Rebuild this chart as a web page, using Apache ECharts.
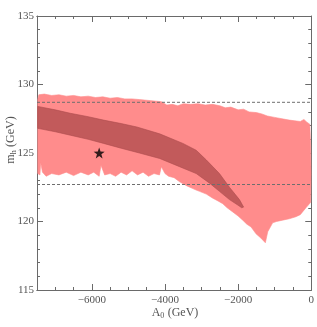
<!DOCTYPE html>
<html><head><meta charset="utf-8">
<script src="https://cdn.jsdelivr.net/npm/echarts@6/dist/echarts.min.js"></script>
<style>html,body{margin:0;padding:0;background:#fff}#c{width:317px;height:327px}</style>
</head><body><div id="c"></div>
<script>
// ---- data ----
const xLabelValues = [-6000, -4000, -2000, 0];
const xMinorTicks = [-7500,-7000,-6500,-6000,-5500,-5000,-4500,-4000,-3500,-3000,-2500,-2000,-1500,-1000,-500,0];
const yTickValues = [115, 120, 125, 130, 135];
const dashLevels = [128.7, 122.7];
const starPoint = [[-5800, 125.0]];

// light (allowed) region boundary
const lightX = [-7480,-7450,-7300,-7100,-6900,-6700,-6500,-6300,-6100,-5900,-5700,-5500,-5300,-5100,-4900,-4700,-4500,-4300,-4100,-3950,-3800,-3650,-3500,-3300,-3100,-2900,-2700,-2500,-2350,-2200,-2000,-1850,-1700,-1500,-1350,-1200,-1000,-800,-600,-450,-300,-200,-120,-40,
  -15,-5,-15,
  -145,-300,-420,-600,-783,-950,-1056,-1190,-1255,-1380,-1510,-1645,-1760,-1874,-2000,-2147,-2300,-2420,-2550,-2692,-2870,-3055,-3150,-3237,-3400,-3600,-3750,-3900,-4000,-4100,-4150,-4300,-4450,-4600,-4750,-4900,-5050,-5200,-5350,-5500,-5650,-5750,-5800,-5950,-6100,-6300,-6500,-6700,-6900,-7100,-7250,-7350,-7400,-7420,-7480];
const lightY = [128.9,129.25,129.3,129.2,129.25,129.15,129.2,129.1,129.15,129.05,129.1,129.0,129.05,128.95,128.95,128.9,128.85,128.8,128.75,128.5,128.55,128.45,128.6,128.55,128.6,128.5,128.55,128.45,128.3,128.35,128.15,128.2,128.0,127.95,127.85,127.7,127.6,127.5,127.4,127.35,127.3,127.45,127.25,127.1,
  125.5,123.5,121.4,
  121.0,120.5,120.35,120.2,120.1,120.0,119.9,119.25,118.45,118.8,119.1,119.6,119.8,120.1,120.4,120.7,121.0,121.3,121.5,121.7,122.0,122.2,122.3,122.4,122.6,122.9,123.2,123.3,123.5,124.0,123.4,123.5,123.3,123.6,123.4,123.7,123.4,123.6,123.3,123.5,123.4,124.1,123.3,123.6,123.4,123.6,123.35,123.6,123.4,123.5,123.3,123.6,124.3,123.4,123.5];

// dark (preferred) band boundary
const darkX = [-7480,-7000,-6590,-6100,-5680,-5200,-4770,-4145,-3510,-3146,-2873,-2510,-2237,-1964,-1850,
  -1900,-2010,-2237,-2510,-2782,-3146,-3600,-4145,-4700,-5200,-5680,-6100,-6590,-7000,-7480];
const darkY = [128.4,128.15,127.9,127.65,127.4,127.15,126.9,126.4,125.7,125.2,124.5,123.5,122.5,121.6,121.05,
  121.0,121.2,121.6,122.2,122.8,123.5,124.0,124.6,125.0,125.35,125.7,126.0,126.3,126.55,126.8];

// ---- chart ----
const FONT = 'Liberation Serif';
const TXT = '#555';
const AX = '#6a6a6a';
const chart = echarts.init(document.getElementById('c'), null, {renderer: 'canvas'});

function poly(xs, ys, fill, stroke) {
  return {
    type: 'custom', xAxisIndex: 0, yAxisIndex: 0, silent: true, clip: true,
    data: [[xs[0], ys[0]]],
    renderItem: function (params, api) {
      const pts = xs.map((x, i) => api.coord([x, ys[i]]));
      return {type: 'polygon', shape: {points: pts}, style: {fill: fill, stroke: stroke, lineWidth: 0.6}};
    }
  };
}
function xAx(pos, labels, ticks, len) {
  return {
    type: 'value', min: -7500, max: 0, position: pos, splitLine: {show: false},
    axisLine: {show: true, onZero: false, lineStyle: {color: AX, width: 1}},
    axisTick: {show: true, inside: true, length: len, customValues: ticks, lineStyle: {color: AX}},
    axisLabel: labels ? {show: true, customValues: xLabelValues, margin: 5, color: TXT, fontFamily: FONT, fontSize: 11,
      formatter: v => (v < 0 ? '\u2212' + Math.abs(v) : String(v))} : {show: false}
  };
}
function yAx(pos, labels) {
  return {
    type: 'value', min: 115, max: 135, interval: 5, position: pos, splitLine: {show: false},
    axisLine: {show: true, onZero: false, lineStyle: {color: AX, width: 1}},
    axisTick: {show: true, inside: true, length: 6, lineStyle: {color: AX}},
    minorTick: {show: true, splitNumber: 5, length: 3, lineStyle: {color: AX}},
    minorSplitLine: {show: false},
    axisLabel: labels ? {show: true, margin: 3, color: TXT, fontFamily: FONT, fontSize: 11} : {show: false}
  };
}

const series = [
  poly(lightX, lightY, '#ff8c8c', '#ff8c8c'),
  poly(darkX, darkY, '#c25a5b', '#ac4c4d')
];
dashLevels.forEach(lv => series.push({
  type: 'line', xAxisIndex: 0, yAxisIndex: 0, silent: true, symbol: 'none',
  data: [[-7500, lv], [0, lv]],
  lineStyle: {color: '#6e6e6e', width: 1, type: [3, 2]}
}));
series.push({
  type: 'scatter', xAxisIndex: 0, yAxisIndex: 0, silent: true,
  symbol: 'path://M0,-10 L2.35,-3.24 L9.51,-3.09 L3.8,1.24 L5.88,8.09 L0,4 L-5.88,8.09 L-3.8,1.24 L-9.51,-3.09 L-2.35,-3.24 Z',
  symbolSize: 11, itemStyle: {color: '#000'}, data: starPoint
});

chart.setOption({
  animation: false,
  backgroundColor: '#fff',
  grid: {left: 37, right: 5, top: 16, bottom: 37, containLabel: false},
  xAxis: [
    xAx('bottom', true, xLabelValues, 6),
    xAx('bottom', false, xMinorTicks, 3),
    xAx('top', false, xLabelValues, 6),
    xAx('top', false, xMinorTicks, 3)
  ],
  yAxis: [yAx('left', true), yAx('right', false)],
  series: series,
  graphic: [
    {type: 'text', x: 175, y: 313, style: {text: '{a|A}{s|0} {a|(GeV)}', align: 'center', verticalAlign: 'middle',
      rich: {a: {fontFamily: FONT, fontSize: 12, fill: TXT, color: TXT}, s: {fontFamily: FONT, fontSize: 8, fill: TXT, color: TXT, padding: [6, 0, 0, 0]}}}},
    {type: 'text', x: 11, y: 140, rotation: Math.PI / 2, style: {text: '{a|m}{s|h} {a|(GeV)}', align: 'center', verticalAlign: 'middle',
      rich: {a: {fontFamily: FONT, fontSize: 12, fill: TXT, color: TXT}, s: {fontFamily: FONT, fontSize: 8, fill: TXT, color: TXT, padding: [6, 0, 0, 0]}}}}
  ]
});
</script></body></html>
